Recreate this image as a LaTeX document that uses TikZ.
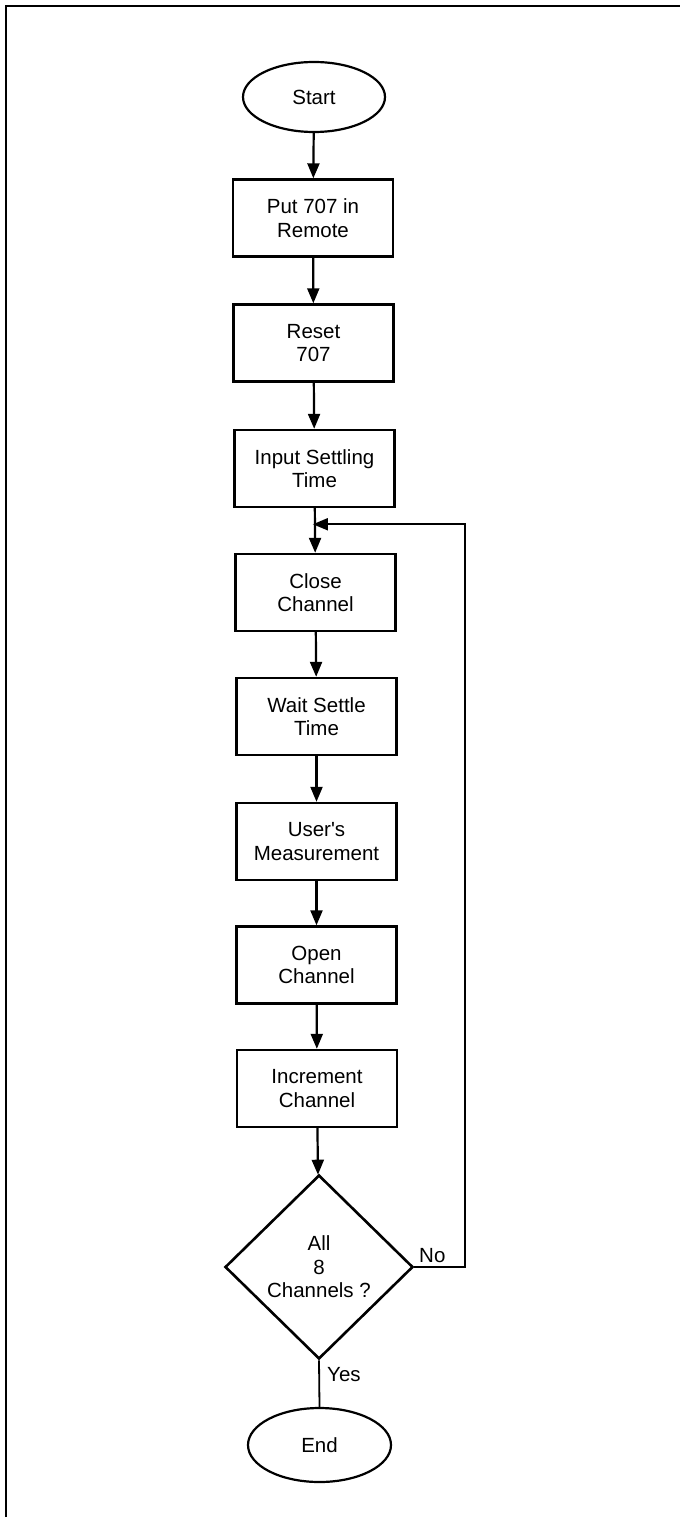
\documentclass[tikz,border=0pt]{standalone}
\usepackage{fontspec}
\setmainfont{Liberation Sans}
\usetikzlibrary{shapes.geometric,arrows.meta,calc}
\begin{document}
\begin{tikzpicture}[x=1pt,y=-1pt,
  every node/.style={font=\fontsize{20.5}{23.5}\selectfont, align=center},
  stepbox/.style={draw, line width=2.4pt, minimum width=160pt, minimum height=77pt, inner sep=0pt},
  terminal/.style={draw, ellipse, line width=2.2pt, inner sep=0pt},
  decision/.style={draw, diamond, line width=2.6pt, minimum width=188pt, minimum height=184pt, inner sep=0pt},
  flow/.style={line width=2.2pt, -{Triangle[length=15pt,width=12pt]}},
  plain/.style={line width=1.8pt},
  frame/.style={line width=2.8pt}
]
\useasboundingbox (0,0) rectangle (680,1522);

% page frame: top and left edges only
\draw[frame] (6,1517) -- (6,6) -- (680,6);

% nodes
\node[terminal, minimum width=142pt, minimum height=70pt] (start) at (314,97) {Start};
\node[stepbox] (remote) at (313,218) {Put 707 in\\Remote};
\node[stepbox] (reset) at (313.5,343) {Reset\\707};
\node[stepbox] (settle) at (314.5,468.5) {Input Settling\\Time};
\node[stepbox] (close) at (315.5,592.5) {Close\\Channel};
\node[stepbox] (wait) at (316.5,716.5) {Wait Settle\\Time};
\node[stepbox] (meas) at (316.5,841.5) {User\textquotesingle s\\Measurement};
\node[stepbox] (open) at (316.5,965) {Open\\Channel};
\node[stepbox] (incr) at (317,1088.5) {Increment\\Channel};
\node[decision] (all) at (319,1267) {All\\8\\Channels ?};
\node[terminal, minimum width=143pt, minimum height=74pt] (end) at (319.5,1445) {End};

% main flow
\draw[flow] (start) -- (remote);
\draw[flow] (remote) -- (reset);
\draw[flow] (reset) -- (settle);
\draw[flow] (settle) -- (close);
\draw[flow] (close) -- (wait);
\draw[flow] (wait) -- (meas);
\draw[flow] (meas) -- (open);
\draw[flow] (open) -- (incr);
\draw[flow] (incr) -- (all);
\draw[plain] (all.south) -- (end.north);

% loop back for the next channel
\coordinate (merge) at ($(settle.south)!0.36!(close.north)$);
\coordinate (loopx) at (465,0);
\draw[line width=1.8pt, -{Triangle[length=15pt,width=12pt]}, shorten >=-2pt]
  (all.east) -| (loopx |- merge) -- (merge);

% branch labels
\node[anchor=base west, inner sep=0pt] (no) at (419,1262) {No};
\node[anchor=base west, inner sep=0pt] (yes) at (327,1381) {Yes};
\end{tikzpicture}
\end{document}
